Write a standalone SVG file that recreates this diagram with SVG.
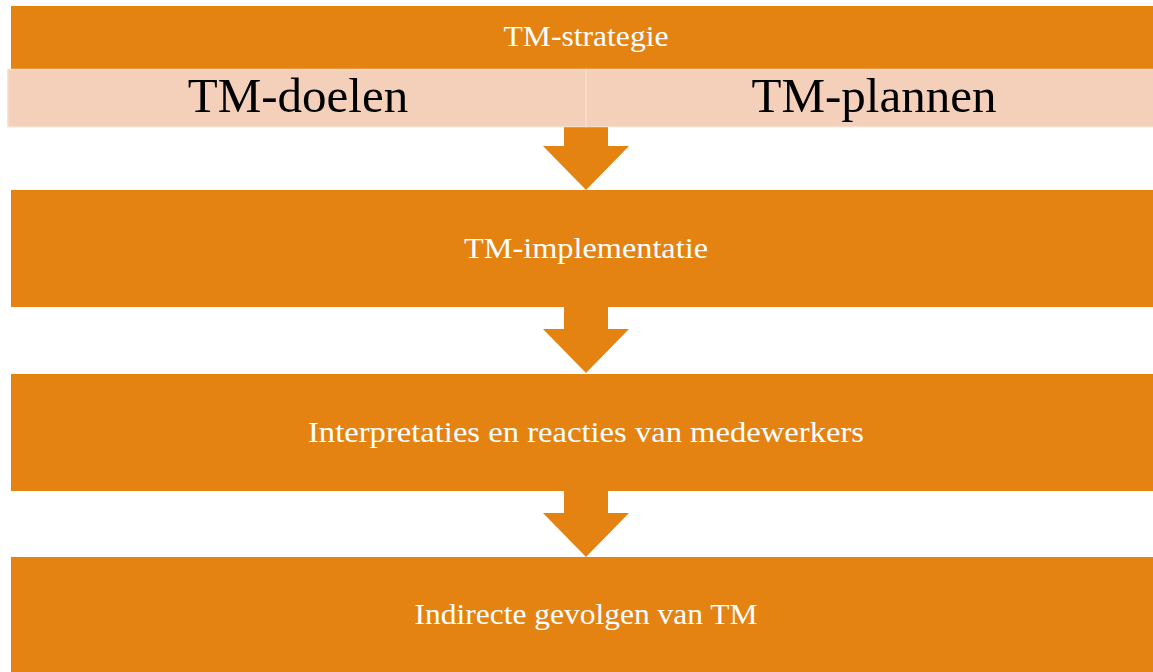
<svg xmlns="http://www.w3.org/2000/svg" width="1153" height="672" viewBox="0 0 1153 672">
<style>
.box{fill:#E48312}
.pale{fill:#F4D0BA;stroke:#F6DBCA;stroke-width:1.5}
.arrow{fill:#E48312}
.wt{font-family:"Liberation Serif","DejaVu Serif",serif;fill:#FFFFFF;text-anchor:middle;font-size:30px}
.bt{font-family:"Liberation Serif","DejaVu Serif",serif;fill:#000000;text-anchor:middle;font-size:49px}
</style>
<rect width="1153" height="672" fill="#FFFFFF"/>
<g id="connectors">
<polygon class="arrow" points="564,126 608,126 608,146 629,146 586,190 543,146 564,146"/>
<polygon class="arrow" points="564,307 608,307 608,329 629,329 586,373 543,329 564,329"/>
<polygon class="arrow" points="564,491 608,491 608,513 629,513 586,557 543,513 564,513"/>
</g>
<g id="tm-strategie">
<rect class="box" x="11" y="6" width="1142" height="63"/>
<text class="wt" x="586" y="46" textLength="165" lengthAdjust="spacingAndGlyphs">TM-strategie</text>
</g>
<g id="tm-doelen">
<rect class="pale" x="8" y="69.5" width="578" height="57"/>
<text class="bt" x="298" y="112">TM-doelen</text>
</g>
<g id="tm-plannen">
<rect class="pale" x="586" y="69.5" width="568" height="57"/>
<text class="bt" x="874" y="112">TM-plannen</text>
</g>
<g id="tm-implementatie">
<rect class="box" x="11" y="190" width="1142" height="117"/>
<text class="wt" x="586" y="258" textLength="244" lengthAdjust="spacingAndGlyphs">TM-implementatie</text>
</g>
<g id="interpretaties">
<rect class="box" x="11" y="374" width="1142" height="117"/>
<text class="wt" x="586" y="442" textLength="556" lengthAdjust="spacingAndGlyphs">Interpretaties en reacties van medewerkers</text>
</g>
<g id="indirecte-gevolgen">
<rect class="box" x="11" y="557" width="1142" height="115"/>
<text class="wt" x="586" y="624" textLength="343" lengthAdjust="spacingAndGlyphs">Indirecte gevolgen van TM</text>
</g>
</svg>
